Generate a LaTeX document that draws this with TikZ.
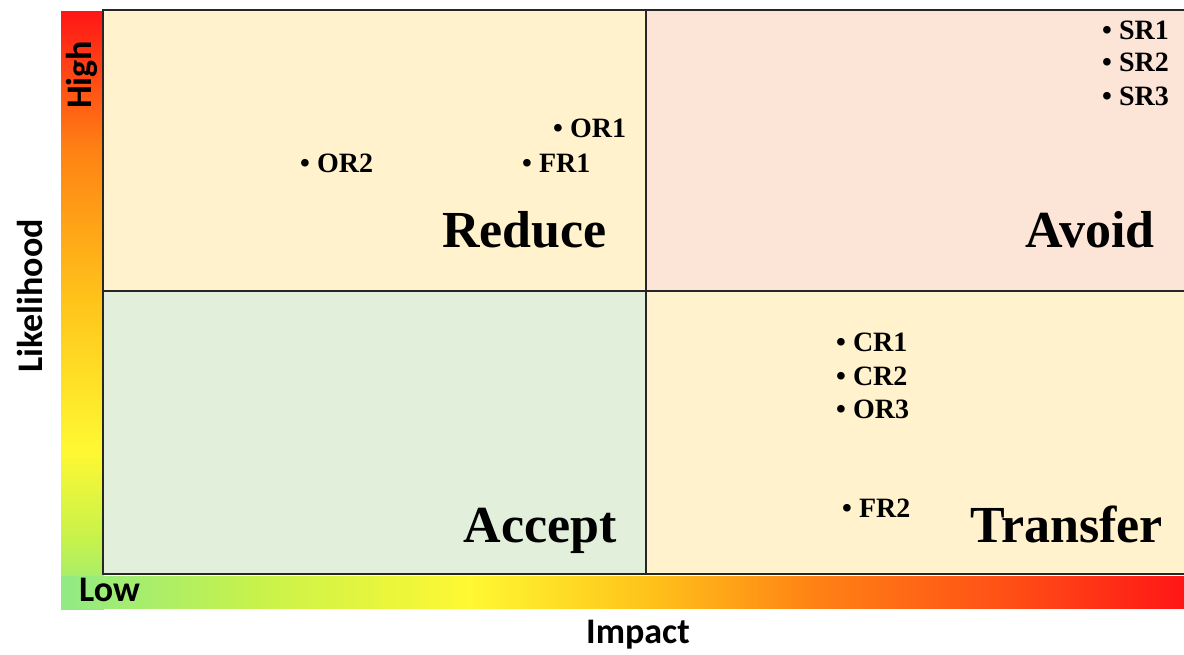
\documentclass[tikz,border=0pt]{standalone}
\usepackage{fontspec}
\setmainfont{Liberation Serif}
\newfontfamily\axisfont{Carlito}
\definecolor{MatrixReduce}{HTML}{FFF2CC}
\definecolor{MatrixAvoid}{HTML}{FCE4D6}
\definecolor{MatrixAccept}{HTML}{E2EFDA}
\definecolor{MatrixLine}{HTML}{262626}
\definecolor{ScaleGreen}{HTML}{90EA84}
\definecolor{ScaleLime}{HTML}{C6F24C}
\definecolor{ScaleYellow}{HTML}{FFF832}
\definecolor{ScaleAmber}{HTML}{FFC41A}
\definecolor{ScaleOrange}{HTML}{FF8214}
\definecolor{ScaleRedOrange}{HTML}{FF5016}
\definecolor{ScaleRed}{HTML}{FF1616}
\pgfdeclareverticalshading{likelihoodscale}{100bp}{color(0bp)=(ScaleGreen); color(25bp)=(ScaleGreen); color(30.8bp)=(ScaleLime); color(38.3bp)=(ScaleYellow); color(50.8bp)=(ScaleAmber); color(63.4bp)=(ScaleOrange); color(75bp)=(ScaleRed); color(100bp)=(ScaleRed)}
\pgfdeclarehorizontalshading{impactscale}{100bp}{color(0bp)=(ScaleGreen); color(25bp)=(ScaleGreen); color(33.5bp)=(ScaleLime); color(43.2bp)=(ScaleYellow); color(51bp)=(ScaleAmber); color(58.5bp)=(ScaleOrange); color(67bp)=(ScaleRedOrange); color(75bp)=(ScaleRed); color(100bp)=(ScaleRed)}
\tikzset{
  riskitem/.style={inner sep=0pt,anchor=west,font={\bfseries\fontsize{28}{30}\selectfont}},
  quadlabel/.style={inner sep=0pt,anchor=base east,font={\bfseries\fontsize{52}{56}\selectfont}},
  axislabel/.style={inner sep=0pt,font={\axisfont\bfseries\fontsize{36}{40}\selectfont}}
}
\begin{document}
\begin{tikzpicture}[x=1pt,y=-1pt]
  \useasboundingbox (0,0) rectangle (1184,654);
  \shade[shading=likelihoodscale] (61,11) rectangle (104,609);
  \shade[shading=impactscale] (61,576) rectangle (1184,608);
  \fill[MatrixReduce] (103,10) rectangle (646,291);
  \fill[MatrixAvoid] (646,10) rectangle (1184,291);
  \fill[MatrixAccept] (103,291) rectangle (646,574);
  \fill[MatrixReduce] (646,291) rectangle (1184,574);
  \draw[MatrixLine,line width=1.5pt] (1184,10) -- (103,10) -- (103,574) -- (1184,574);
  \draw[MatrixLine,line width=1.5pt] (646,10) -- (646,574) (103,291) -- (1184,291);
  \node[riskitem] (or1) at (553,128) {\textbullet\ OR1};
  \node[riskitem] (or2) at (300,163) {\textbullet\ OR2};
  \node[riskitem] (fr1) at (522,163) {\textbullet\ FR1};
  \node[riskitem] (sr1) at (1102,30) {\textbullet\ SR1};
  \node[riskitem] (sr2) at (1102,62) {\textbullet\ SR2};
  \node[riskitem] (sr3) at (1102,96) {\textbullet\ SR3};
  \node[riskitem] (cr1) at (836,342) {\textbullet\ CR1};
  \node[riskitem] (cr2) at (836,376) {\textbullet\ CR2};
  \node[riskitem] (or3) at (836,409) {\textbullet\ OR3};
  \node[riskitem] (fr2) at (842,508) {\textbullet\ FR2};
  \node[quadlabel] (reduce) at (607,247) {Reduce};
  \node[quadlabel] (avoid) at (1155,247) {Avoid};
  \node[quadlabel] (accept) at (617,542) {Accept};
  \node[quadlabel] (transfer) at (1163,542) {Transfer};
  \node[axislabel,rotate=90] (high) at (82,75) {High};
  \node[axislabel,anchor=west] (low) at (79,590) {Low};
  \node[axislabel,rotate=90] (likelihood) at (30,296) {Likelihood};
  \node[axislabel] (impact) at (638,635) {Impact};
\end{tikzpicture}
\end{document}
